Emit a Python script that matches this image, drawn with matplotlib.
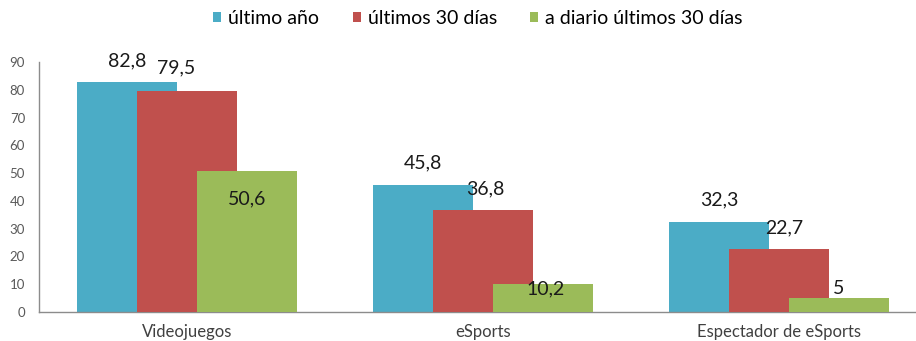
import matplotlib
matplotlib.use("Agg")
import matplotlib.pyplot as plt
import numpy as np

plt.rcParams['font.family'] = ['Lato', 'DejaVu Sans']

categories = ["Videojuegos", "eSports", "Espectador de eSports"]
series_names = ["último año", "últimos 30 días", "a diario últimos 30 días"]
ultimo_anio = [82.8, 45.8, 32.3]
ultimos_30 = [79.5, 36.8, 22.7]
diario_30 = [50.6, 10.2, 5.0]
yticks = list(range(0, 91, 10))

colors = ["#4BACC6", "#C0504D", "#9BBB59"]
series = [ultimo_anio, ultimos_30, diario_30]
# label offsets (points) per series and category
label_dy = [[15, 16, 16], [17, 15, 15], [-20, -4, 7]]
label_dx = [[0, 0, 0], [-8, 2, 4], [0, 2, 0]]

fig = plt.figure(figsize=(9.16, 3.41), dpi=100)
ax = fig.add_axes([39 / 916, 29 / 341, 888 / 916, 250 / 341])

x = np.arange(len(categories))
width = 0.338
step = 0.203

for i, (vals, c, name) in enumerate(zip(series, colors, series_names)):
    xpos = x + (i - 1) * step
    ax.bar(xpos, vals, width=width, color=c, label=name, zorder=2 + i)
    for j, v in enumerate(vals):
        txt = f"{v:g}".replace(".", ",")
        ax.annotate(txt, (xpos[j], v), xytext=(label_dx[i][j], label_dy[i][j]),
                    textcoords="offset points", ha="center", va="center",
                    fontsize=14, color="#1a1a1a", zorder=10)

ax.set_xlim(-0.5, len(categories) - 0.5)
ax.set_ylim(0, 90)
ax.set_yticks(yticks)
ax.set_yticklabels([str(t) for t in yticks], fontsize=9.5, color="#595959")
ax.set_xticks(x)
ax.set_xticklabels(categories, fontsize=12, color="#404040")
ax.tick_params(axis="y", length=0, pad=10)
ax.tick_params(axis="x", length=0, pad=9)
for s in ["top", "right"]:
    ax.spines[s].set_visible(False)
for s in ["left", "bottom"]:
    ax.spines[s].set_color("#8c8c8c")
    ax.spines[s].set_linewidth(1.0)

handles, labels = ax.get_legend_handles_labels()
fig.legend(handles, labels, loc="center", bbox_to_anchor=(478 / 916, 1 - 18 / 341),
           ncol=3, frameon=False, fontsize=14, handlelength=0.42, handleheight=0.42,
           handletextpad=0.36, columnspacing=1.7)

fig.savefig("out.png", dpi=100)
